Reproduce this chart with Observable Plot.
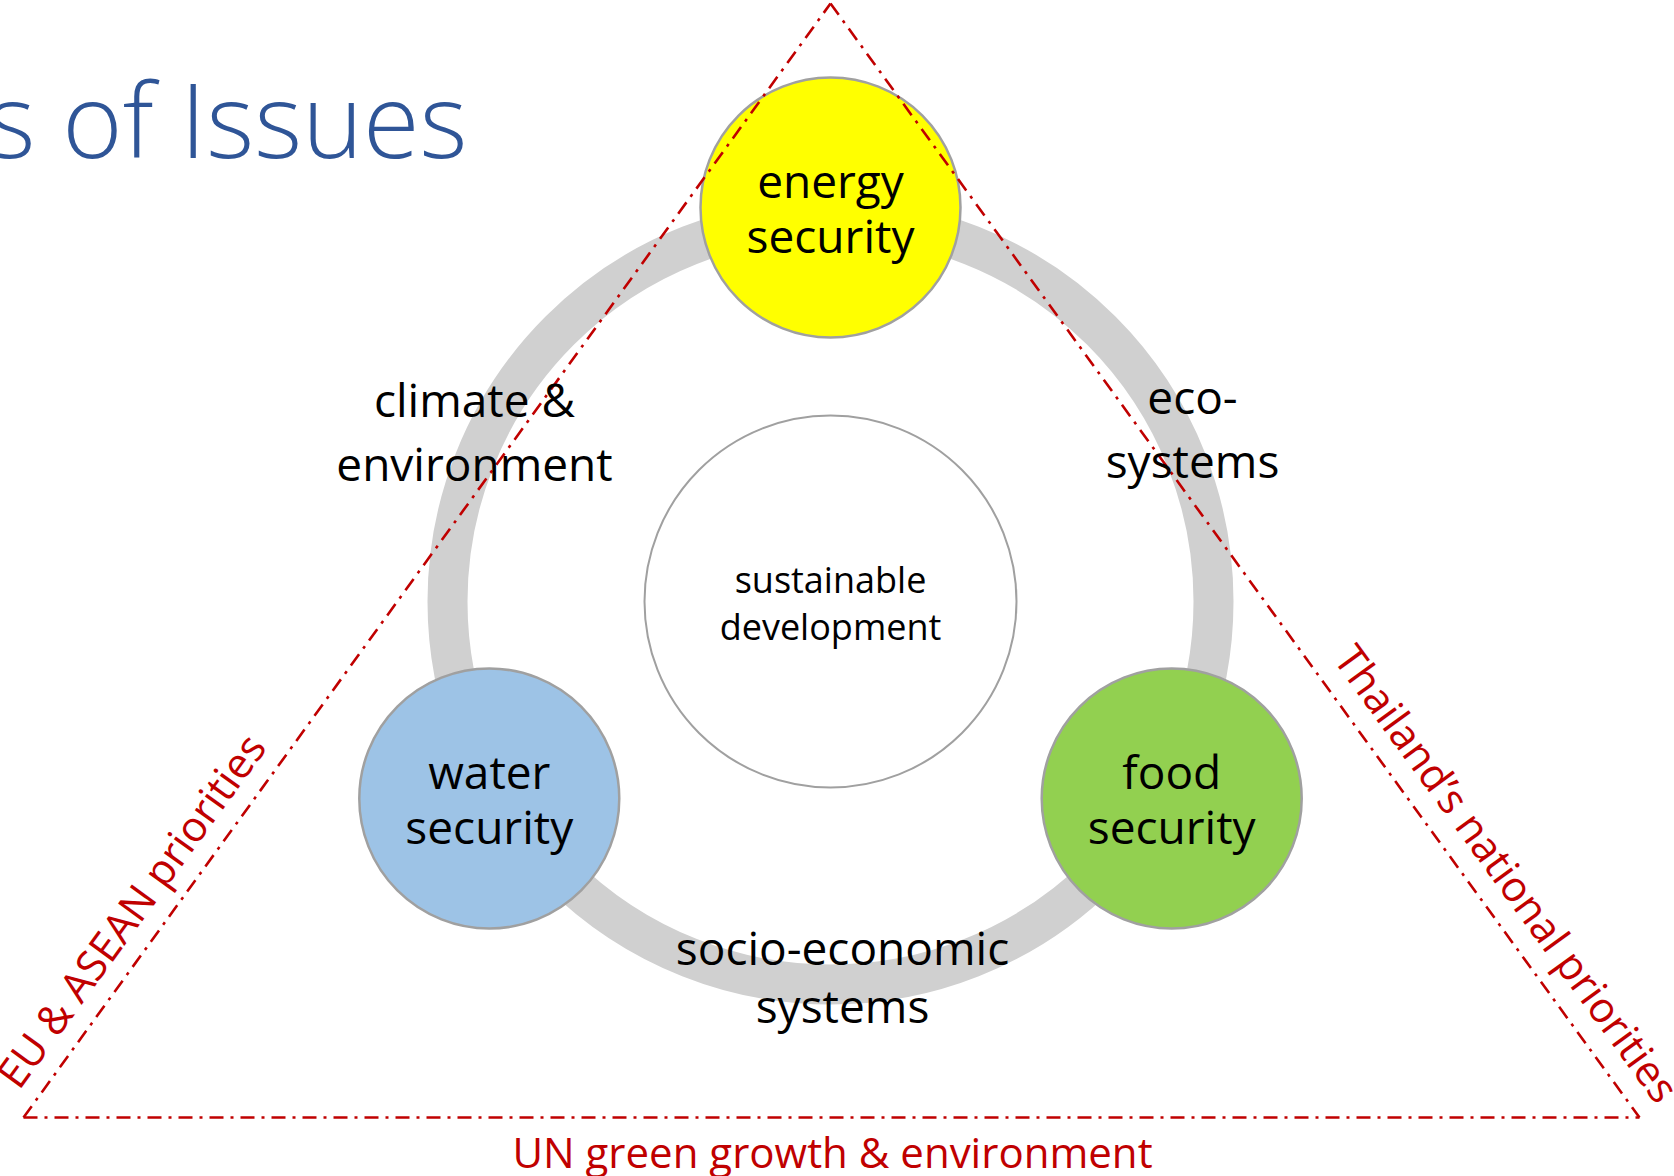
<!DOCTYPE html>
<html>
<head>
<meta charset="utf-8">
<script src="https://cdn.jsdelivr.net/npm/d3@7"></script>
<script src="https://cdn.jsdelivr.net/npm/@observablehq/plot@0.6"></script>
<style>
  html, body { margin: 0; padding: 0; background: #ffffff; overflow: hidden; }
  #chart svg { display: block; }
</style>
</head>
<body>
<div id="chart"></div>
<script>
// ---------------- data ----------------
const titleText = "s of Issues";

// the three security nodes placed on the ring (angle in degrees, counter-clockwise from east)
const nodeNames  = ["energy\nsecurity", "water\nsecurity", "food\nsecurity"];
const nodeAngles = [90, 210, 330];
const nodeColors = ["#FFFF00", "#9DC3E6", "#92D050"];

// the links between nodes (labels placed beside the ring)
const linkLabels = ["climate &\nenvironment", "eco-\nsystems", "socio-economic\nsystems"];
const linkX = [-356, 362, 12];
const linkY = [121, 124, -421];
const linkLineHeights = [1.37, 1.38, 1.24];

// the hub in the middle
const hubLabel = "sustainable\ndevelopment";

// the outer frame of priorities (triangle vertices: apex, bottom-left, bottom-right)
const frameVX = [0, -807, 809];
const frameVY = [598, -516, -516];
const frameLabels = ["EU & ASEAN priorities", "UN green growth & environment", "Thailand\u2019s national priorities"];
const frameLabelX = [-687, 2, 664];
const frameLabelY = [-318, -566, -281];

// ---------------- layout constants ----------------
const W = 1674, H = 1176;
const ringR = 383, nodeOrbit = 394, nodeR = 130, hubR = 186;

const nodes = nodeNames.map((name, i) => ({
  name,
  x: nodeOrbit * Math.cos(nodeAngles[i] * Math.PI / 180),
  y: nodeOrbit * Math.sin(nodeAngles[i] * Math.PI / 180),
  color: nodeColors[i]
}));
const hub = [{name: hubLabel, x: 0, y: 0}];
const links = linkLabels.map((t, i) => ({t, x: linkX[i], y: linkY[i], lh: linkLineHeights[i]}));

// frame edges: left (BL -> apex), bottom (BL -> BR), right (apex -> BR)
const edgePairs = [[1, 0], [1, 2], [0, 2]];
const edges = edgePairs.map(([a, b], i) => ({
  x1: frameVX[a], y1: frameVY[a], x2: frameVX[b], y2: frameVY[b],
  label: frameLabels[i], lx: frameLabelX[i], ly: frameLabelY[i],
  // screen angle (y axis is flipped on screen)
  rot: Math.atan2(-(frameVY[b] - frameVY[a]), frameVX[b] - frameVX[a]) * 180 / Math.PI
}));

const red = "#C00000";
const font = "'Open Sans', 'Noto Sans', sans-serif";

const linkMarks = links.map(d => Plot.text([d], {
  x: "x", y: "y", text: "t", fontSize: 46, lineHeight: d.lh, lineAnchor: "bottom",
  textAnchor: "middle", fill: "#000000"
}));

const chart = Plot.plot({
  width: W,
  height: H,
  margin: 0,
  x: {domain: [-830, 844], axis: null},
  y: {domain: [-575, 601], axis: null},
  color: {type: "identity"},
  style: {fontFamily: font, background: "#ffffff", overflow: "visible"},
  marks: [
    // grey ring
    Plot.dot(hub, {x: "x", y: "y", r: ringR, fill: "none", stroke: "#D0D0D0", strokeWidth: 40}),
    // hub circle
    Plot.dot(hub, {x: "x", y: "y", r: hubR, fill: "#ffffff", stroke: "#A0A0A0", strokeWidth: 2}),
    // node circles
    Plot.dot(nodes, {x: "x", y: "y", r: nodeR, fill: "color", stroke: "#A0A0A0", strokeWidth: 2.5}),
    // dash-dot triangle frame
    Plot.link(edges, {x1: "x1", y1: "y1", x2: "x2", y2: "y2", stroke: red, strokeWidth: 2.6,
      strokeDasharray: "14,7,3,7", strokeLinecap: "butt"}),
    // node labels
    Plot.text(nodes, {x: "x", y: "y", text: "name", fontSize: 46, lineHeight: 1.2,
      lineAnchor: "middle", fill: "#000000"}),
    // hub label
    Plot.text(hub, {x: "x", y: "y", text: "name", fontSize: 36, lineHeight: 1.3,
      lineAnchor: "middle", fill: "#000000"}),
    // link labels
    ...linkMarks,
    // frame labels
    Plot.text(edges, {x: "lx", y: "ly", text: "label", rotate: "rot", fontSize: 42,
      lineAnchor: "bottom", textAnchor: "middle", fill: red}),
    // title fragment
    Plot.text([titleText], {x: [-843], y: [444], text: d => d, fontSize: 103, fontWeight: 300,
      lineAnchor: "bottom", textAnchor: "start", fill: "#2F5597"})
  ]
});

document.getElementById("chart").appendChild(chart);
</script>
</body>
</html>
